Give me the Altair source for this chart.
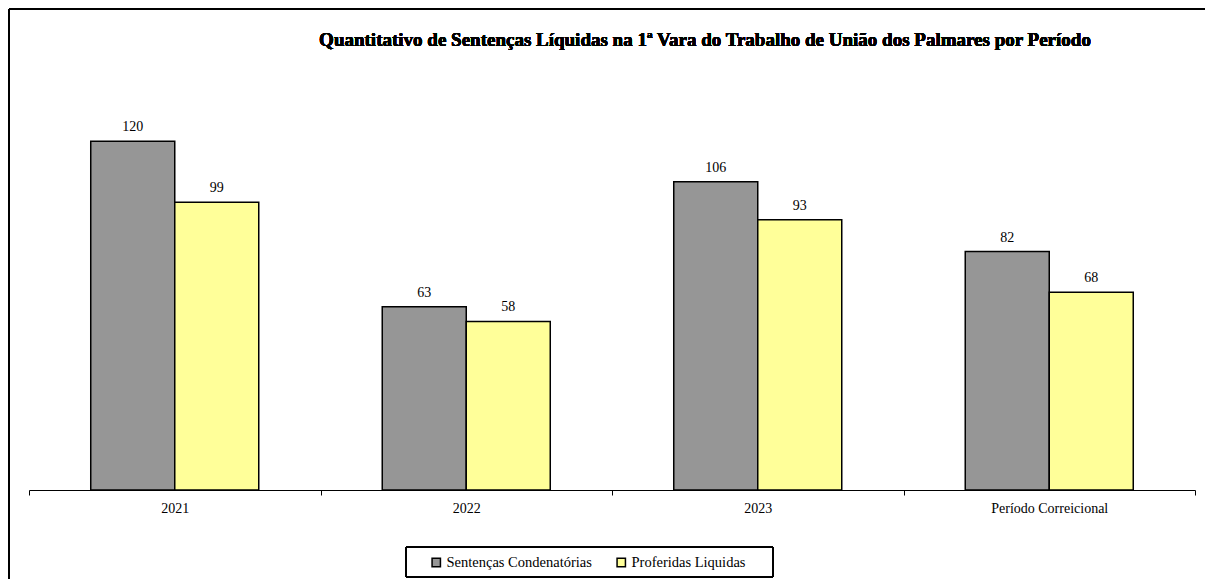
import altair as alt
import pandas as pd

categories = ["2021", "2022", "2023", "Período Correicional"]
series = ["Sentenças Condenatórias", "Proferidas Liquidas"]
condenatorias = [120, 63, 106, 82]
liquidas = [99, 58, 93, 68]
colors = ["#969696", "#FFFF99"]
title = "Quantitativo de Sentenças Líquidas na 1ª Vara do Trabalho de União dos Palmares por Período"

rows = []
for i, c in enumerate(categories):
    rows.append({"cat": c, "serie": series[0], "val": condenatorias[i]})
    rows.append({"cat": c, "serie": series[1], "val": liquidas[i]})
df = pd.DataFrame(rows)

FONT = "Liberation Serif"

base = alt.Chart(df)

x = alt.X("cat:N", sort=categories, title=None,
          scale=alt.Scale(paddingInner=0, paddingOuter=0),
          axis=alt.Axis(labelAngle=0, tickBand="extent", tickSize=5, domainColor="black",
                        tickColor="black", labelFont=FONT, labelFontSize=14,
                        labelColor="black", labelPadding=6, grid=False))
xo = alt.XOffset("serie:N", sort=series,
                 scale=alt.Scale(paddingInner=0, paddingOuter=0.735))
y = alt.Y("val:Q", scale=alt.Scale(domain=[0, 140], nice=False), axis=None)

bars = base.mark_bar(stroke="black", strokeWidth=1.5).encode(
    x=x, xOffset=xo, y=y,
    color=alt.Color("serie:N", sort=series,
                    scale=alt.Scale(domain=series, range=colors),
                    legend=alt.Legend(title=None, orient="none", direction="horizontal",
                                      legendX=400, legendY=472, columns=2,
                                      symbolType="square", symbolSize=70,
                                      symbolStrokeColor="black", symbolStrokeWidth=1.5,
                                      labelFont=FONT, labelFontSize=14.5, labelColor="black",
                                      columnPadding=22, symbolOffset=0, labelOffset=3)),
)

labels = base.mark_text(dy=-14, font=FONT, fontSize=14, color="black").encode(
    x=x, xOffset=xo, y=y, text="val:Q")

title_mark = base.mark_text(font=FONT, fontSize=19, fontWeight="bold", color="black").encode(
    x=alt.value(676), y=alt.value(-43), text=alt.value(title))

box = base.mark_rect(fill="transparent", stroke="black", strokeWidth=1).encode(
    x=alt.value(377), x2=alt.value(744), y=alt.value(464), y2=alt.value(494))

frame_top = base.mark_rule(color="black", strokeWidth=2).encode(
    x=alt.value(-20), x2=alt.value(1176), y=alt.value(-74), y2=alt.value(-74))
frame_left = base.mark_rule(color="black", strokeWidth=2).encode(
    x=alt.value(-20), x2=alt.value(-20), y=alt.value(-74), y2=alt.value(496))

cover = base.mark_rect(fill="white", stroke="transparent").encode(
    x=alt.value(1168), x2=alt.value(1180), y=alt.value(-72), y2=alt.value(500))

chart = alt.layer(frame_top, frame_left, box, title_mark, bars, labels, cover).properties(
    width=1166, height=407,
    autosize=alt.AutoSizeParams(type="none"),
    padding={"left": 21, "top": 75, "right": 10, "bottom": 89},
).configure(background="white").configure_view(strokeWidth=0, stroke="transparent")

chart.save("out.html", embed_options={"renderer": "svg", "actions": False})
